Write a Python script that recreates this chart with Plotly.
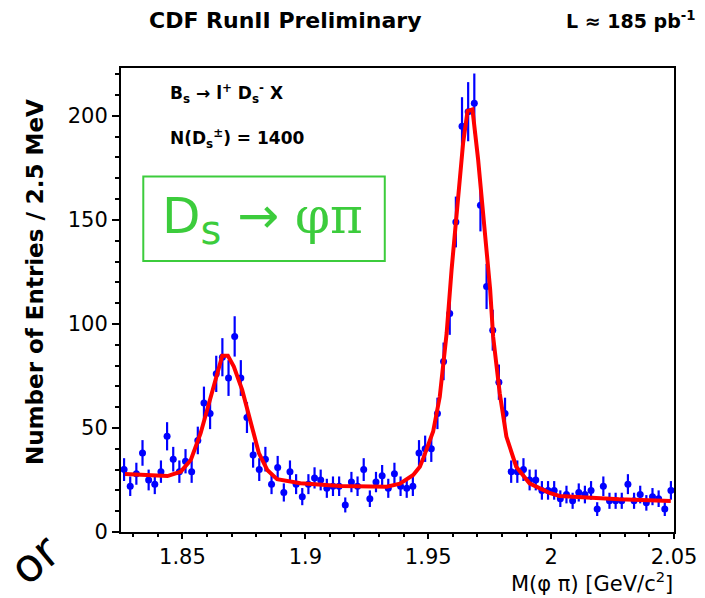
import numpy as np
import plotly.graph_objects as go

# ---- data ----
mass_low = 1.825      # GeV/c^2, lower histogram edge
bin_width = 0.0025    # 2.5 MeV bins
counts = [30, 22, 28, 38, 25, 23, 29, 46, 35, 29,
          34, 29, 44, 62, 57, 76, 84, 74, 94, 74,
          55, 37, 30, 35, 23, 31, 19, 29, 23, 17,
          23, 26, 25, 21, 22, 22, 13, 24, 22, 30,
          16, 24, 27, 21, 28, 22, 21, 22, 38, 40,
          40, 57, 82, 105, 149, 195, 202, 206, 157, 118,
          97, 72, 57, 29, 29, 30, 25, 25, 20, 20,
          20, 16, 18, 15, 19, 18, 20, 11, 22, 15,
          15, 15, 23, 15, 18, 14, 17, 16, 11, 20]

fit_mass = [1.8266, 1.8439, 1.8493, 1.8534, 1.8574, 1.8615, 1.8648, 1.8662, 1.8685,
            1.8709, 1.8743, 1.8777, 1.8811, 1.8845, 1.8885, 1.8980, 1.9142, 1.9331,
            1.9385, 1.9439, 1.9466, 1.9480, 1.9520, 1.9547, 1.9575, 1.9595, 1.9622,
            1.9642, 1.9660, 1.9680, 1.9703, 1.9723, 1.9739, 1.9752, 1.9764, 1.9791,
            1.9818, 1.9858, 1.9912, 1.9993, 2.0034, 2.0142, 2.0277, 2.0487]
fit_value = [27.9, 26.9, 29.0, 34.6, 47.5, 65.0, 79.5, 84.7, 84.7,
             79.5, 68.3, 52.3, 37.9, 29.8, 25.4, 23.4, 22.1, 21.8,
             23.2, 27.4, 31.4, 35.5, 48.3, 65.0, 95.6, 126.0, 163.0,
             187.0, 202.3, 203.1, 179.0, 155.0, 131.0, 116.5, 94.0, 66.7,
             45.9, 31.4, 23.4, 18.8, 17.3, 16.5, 15.7, 14.9]

x_ticks = [1.85, 1.9, 1.95, 2.0, 2.05]
x_ticktext = ["1.85", "1.9", "1.95", "2", "2.05"]
y_ticks = [0, 50, 100, 150, 200]

n_bins = len(counts)
centers = mass_low + bin_width * (np.arange(n_bins) + 0.5)
errors = np.sqrt(np.array(counts, dtype=float))

FONT = "DejaVu Sans"
BLUE = "#0000ff"
GREEN = "#3ccc3c"

fig = go.Figure()
fig.add_trace(go.Scatter(
    x=centers, y=counts, mode="markers",
    marker=dict(color=BLUE, size=7, symbol="circle"),
    error_y=dict(type="data", array=errors, color=BLUE, thickness=2.2, width=0),
    showlegend=False, hoverinfo="skip"))
fig.add_trace(go.Scatter(
    x=fit_mass, y=fit_value, mode="lines",
    line=dict(color="#ff0000", width=4),
    showlegend=False, hoverinfo="skip"))

axis_common = dict(showgrid=False, zeroline=False, showline=True, linecolor="black",
                   linewidth=2, mirror=True, ticks="outside", tickwidth=1.5,
                   automargin=False, tickcolor="black",
                   tickfont=dict(family=FONT, size=21, color="black"))

fig.update_xaxes(range=[mass_low, mass_low + n_bins * bin_width],
                 tickmode="array", tickvals=x_ticks, ticktext=x_ticktext, ticklen=5,
                 minor=dict(tickvals=[round(1.83 + 0.01 * i, 2) for i in range(22)],
                            ticks="outside", ticklen=3, tickcolor="black"),
                 **axis_common)
fig.update_yaxes(range=[0, 223], tickmode="array", tickvals=y_ticks, ticklen=7,
                 minor=dict(tickvals=list(range(10, 230, 10)), ticks="outside",
                            ticklen=4, tickcolor="black"),
                 **axis_common)

fig.add_shape(type="rect", xref="paper", yref="paper",
              x0=0.0403, x1=0.477, y0=0.584, y1=0.766,
              line=dict(color=GREEN, width=2), fillcolor="rgba(0,0,0,0)")

ann = []
ann.append(dict(text="<b>CDF RunII Preliminary</b>", x=(285 - 121) / 553, y=(532 - 20) / 464,
                xanchor="center", yanchor="middle",
                font=dict(family=FONT, size=22, color="black")))
ann.append(dict(text="<b>L ≈ 185 pb<sup>-1</sup></b>", x=(698 - 121) / 553, y=(532 - 20) / 464,
                xanchor="right", yanchor="middle",
                font=dict(family=FONT, size=19, color="black")))
ann.append(dict(text="<b>B<sub>s</sub> → l<sup>+</sup> D<sub>s</sub><sup>-</sup> X</b>",
                x=(168 - 121) / 553, y=(532 - 94) / 464, xanchor="left", yanchor="middle",
                font=dict(family=FONT, size=17, color="black")))
ann.append(dict(text="<b>N(D<sub>s</sub><sup>±</sup>) = 1400</b>",
                x=(168 - 121) / 553, y=(532 - 138) / 464, xanchor="left", yanchor="middle",
                font=dict(family=FONT, size=17, color="black")))
ann.append(dict(text="D<sub><span style='font-size:40px'>s</span></sub> → "
                     "<span style='font-family:DejaVu Serif'>φπ</span>",
                x=(262 - 121) / 553, y=(532 - 220) / 464, xanchor="center", yanchor="middle",
                font=dict(family=FONT, size=50, color=GREEN)))
ann.append(dict(text="<b>Number of Entries / 2.5 MeV</b>", textangle=-90,
                x=(35 - 121) / 553, y=(532 - 282) / 464, xanchor="center", yanchor="middle",
                font=dict(family=FONT, size=23, color="black")))
ann.append(dict(text="M(φ π) [GeV/c<sup>2</sup>]",
                x=(675 - 121) / 553, y=(532 - 598) / 464, xanchor="right", yanchor="bottom",
                font=dict(family=FONT, size=21, color="black")))
ann.append(dict(text="or", textangle=-40,
                x=(34 - 121) / 553, y=(532 - 560) / 464, xanchor="center", yanchor="middle",
                font=dict(family=FONT, size=46, color="black")))
for a in ann:
    a.update(xref="paper", yref="paper", showarrow=False)
fig.update_layout(annotations=ann)

fig.update_layout(width=705, height=598, margin=dict(l=121, r=31, t=68, b=66),
                  plot_bgcolor="white", paper_bgcolor="white")

fig.write_html("out.html")
